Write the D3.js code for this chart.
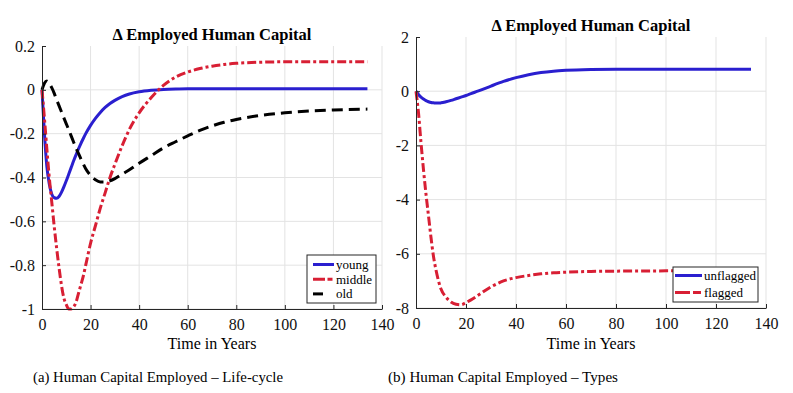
<!DOCTYPE html>
<html>
<head>
<meta charset="utf-8">
<script src="https://cdn.jsdelivr.net/npm/d3@7"></script>
<style>
  body { margin: 0; background: #fff; }
</style>
</head>
<body>
<svg id="fig" width="793" height="393"></svg>
<script>
// ---- data ----
var tLeft = [0,1,2,3,4,5,6,7,8,9,10,11,12,13,14,15,16,17,18,20,22,24,26,28,30,33,36,40,45,50,55,60,65,70,75,80,90,100,110,120,134];
var young = [0,-0.2,-0.35,-0.43,-0.475,-0.492,-0.495,-0.487,-0.468,-0.443,-0.415,-0.385,-0.355,-0.325,-0.297,-0.27,-0.245,-0.222,-0.2,-0.162,-0.13,-0.103,-0.08,-0.062,-0.048,-0.031,-0.019,-0.009,-0.002,0.002,0.004,0.005,0.005,0.005,0.005,0.005,0.005,0.005,0.005,0.005,0.005];
var middle = [0,-0.13,-0.27,-0.4,-0.51,-0.62,-0.72,-0.81,-0.89,-0.95,-0.98,-1.0,-1.0,-0.99,-0.97,-0.93,-0.89,-0.85,-0.8,-0.7,-0.62,-0.54,-0.47,-0.4,-0.34,-0.255,-0.18,-0.105,-0.035,0.02,0.058,0.081,0.097,0.108,0.116,0.121,0.126,0.128,0.128,0.128,0.128];
var old = [0,0.03,0.04,0.03,0.01,-0.015,-0.045,-0.072,-0.1,-0.128,-0.155,-0.182,-0.21,-0.238,-0.265,-0.29,-0.315,-0.338,-0.36,-0.39,-0.41,-0.42,-0.42,-0.415,-0.405,-0.385,-0.365,-0.335,-0.3,-0.265,-0.237,-0.21,-0.185,-0.165,-0.148,-0.135,-0.117,-0.105,-0.097,-0.092,-0.088];

var tRight = [0,1,2,3,4,5,6,7,8,9,10,12,14,16,18,20,22,25,30,35,40,45,50,55,60,70,80,100,120,134];
var unflagged = [0,-0.12,-0.22,-0.29,-0.35,-0.39,-0.42,-0.43,-0.44,-0.44,-0.43,-0.39,-0.34,-0.28,-0.22,-0.16,-0.09,0.01,0.19,0.36,0.5,0.61,0.69,0.74,0.77,0.8,0.81,0.81,0.81,0.81];
var flagged = [0,-0.8,-1.9,-2.9,-3.8,-4.6,-5.4,-6.1,-6.6,-7.0,-7.3,-7.6,-7.78,-7.86,-7.88,-7.8,-7.7,-7.52,-7.22,-7.0,-6.88,-6.8,-6.74,-6.7,-6.68,-6.65,-6.64,-6.63,-6.63,-6.63];

var xTicks = [0,20,40,60,80,100,120,140];
var yTicksLeft = [-1,-0.8,-0.6,-0.4,-0.2,0,0.2];
var yTicksRight = [-8,-6,-4,-2,0,2];

var BLUE = "#2a1fcf", RED = "#d81f34", BLACK = "#000";
var FONT = "'Liberation Serif', 'Times New Roman', Times, 'DejaVu Serif', serif";

var svg = d3.select("#fig").attr("font-family", FONT);

/*
 * one panel
 */
function drawPanel(p) {
  var x = d3.scaleLinear().domain([0, 140]).range([p.left, p.right]);
  var y = d3.scaleLinear().domain(p.yDomain).range([p.bottom, p.top]);
  var g = svg.append("g");

  // grid
  g.append("g").selectAll("line").data(xTicks.slice(1)).enter().append("line")
      .attr("x1", d => x(d)).attr("x2", d => x(d))
      .attr("y1", p.top).attr("y2", p.bottom)
      .attr("stroke", "#e3e3e3").attr("stroke-width", 1);
  g.append("g").selectAll("line").data(p.yTicks.slice(0, -1)).enter().append("line")
      .attr("x1", p.left).attr("x2", p.right)
      .attr("y1", d => y(d)).attr("y2", d => y(d))
      .attr("stroke", "#e3e3e3").attr("stroke-width", 1);

  // series
  var line = d3.line().curve(d3.curveMonotoneX);
  p.series.forEach(function(s) {
    g.append("path")
      .attr("d", line(p.t.map((t, i) => [x(t), y(s.values[i])])))
      .attr("fill", "none")
      .attr("stroke", s.color)
      .attr("stroke-width", 3)
      .attr("stroke-dasharray", s.dash);
  });

  // axes (left + bottom, ticks inside)
  var xAxis = g.append("g").attr("transform", "translate(0," + p.bottom + ")")
      .call(d3.axisBottom(x).tickValues(xTicks).tickSizeInner(-4).tickSizeOuter(0).tickPadding(10));
  var yAxis = g.append("g").attr("transform", "translate(" + p.left + ",0)")
      .call(d3.axisLeft(y).tickValues(p.yTicks).tickSizeInner(-4).tickSizeOuter(0).tickPadding(7)
        .tickFormat(d => String(Math.round(d * 10) / 10)));
  [xAxis, yAxis].forEach(function(a) {
    a.attr("font-family", FONT).attr("font-size", 16);
    a.select(".domain").attr("stroke", "#262626").attr("stroke-width", 1);
    a.selectAll(".tick line").attr("stroke", "#262626");
    a.selectAll("text").attr("fill", "#111");
  });

  g.append("text")
      .attr("x", (p.left + p.right) / 2).attr("y", p.titleY)
      .attr("text-anchor", "middle").attr("font-weight", "bold").attr("font-size", 16.5)
      .text("\u0394 Employed Human Capital");

  g.append("text")
      .attr("x", (p.left + p.right) / 2).attr("y", 349)
      .attr("text-anchor", "middle").attr("font-size", 16)
      .text("Time in Years");

  g.append("text")
      .attr("x", p.capX).attr("y", 382)
      .attr("font-size", 15.5)
      .attr("textLength", p.capW).attr("lengthAdjust", "spacingAndGlyphs")
      .text(p.caption);

  // legend
  var L = p.legend;
  var lg = g.append("g");
  lg.append("rect")
      .attr("x", L.x).attr("y", L.y).attr("width", L.w).attr("height", L.h)
      .attr("fill", "#fff").attr("stroke", "#262626").attr("stroke-width", 1);
  p.series.forEach(function(s, i) {
    var yy = L.y + L.first + i * L.step;
    lg.append("line")
      .attr("x1", L.x + L.s0).attr("x2", L.x + L.s1)
      .attr("y1", yy).attr("y2", yy)
      .attr("stroke", s.color).attr("stroke-width", 3)
      .attr("stroke-dasharray", s.legendDash);
    lg.append("text")
      .attr("x", L.x + L.s1 + 2).attr("y", yy + 4.5)
      .attr("font-size", 13).text(s.name);
  });
}

drawPanel({
  left: 42, right: 382, top: 46, bottom: 309, titleY: 40,
  yDomain: [-1, 0.2], yTicks: yTicksLeft, t: tLeft,
  caption: "(a) Human Capital Employed \u2013 Life-cycle", capX: 33, capW: 250,
  series: [
    {name: "young", values: young, color: BLUE, dash: null, legendDash: null},
    {name: "middle", values: middle, color: RED, dash: "9,3,3,3", legendDash: "12,2.5,5,20"},
    {name: "old", values: old, color: BLACK, dash: "11,6", legendDash: "10,30"}
  ],
  legend: {x: 307, y: 255, w: 69, h: 48, first: 9.5, step: 14.7, s0: 6, s1: 27}
});

drawPanel({
  left: 416, right: 766, top: 37, bottom: 308, titleY: 31,
  yDomain: [-8, 2], yTicks: yTicksRight, t: tRight,
  caption: "(b) Human Capital Employed \u2013 Types", capX: 388, capW: 230,
  series: [
    {name: "unflagged", values: unflagged, color: BLUE, dash: null, legendDash: null},
    {name: "flagged", values: flagged, color: RED, dash: "9,3,3,3", legendDash: "15,3,8,30"}
  ],
  legend: {x: 673, y: 267, w: 85, h: 35, first: 8.5, step: 17, s0: 2, s1: 29}
});
</script>
</body>
</html>
